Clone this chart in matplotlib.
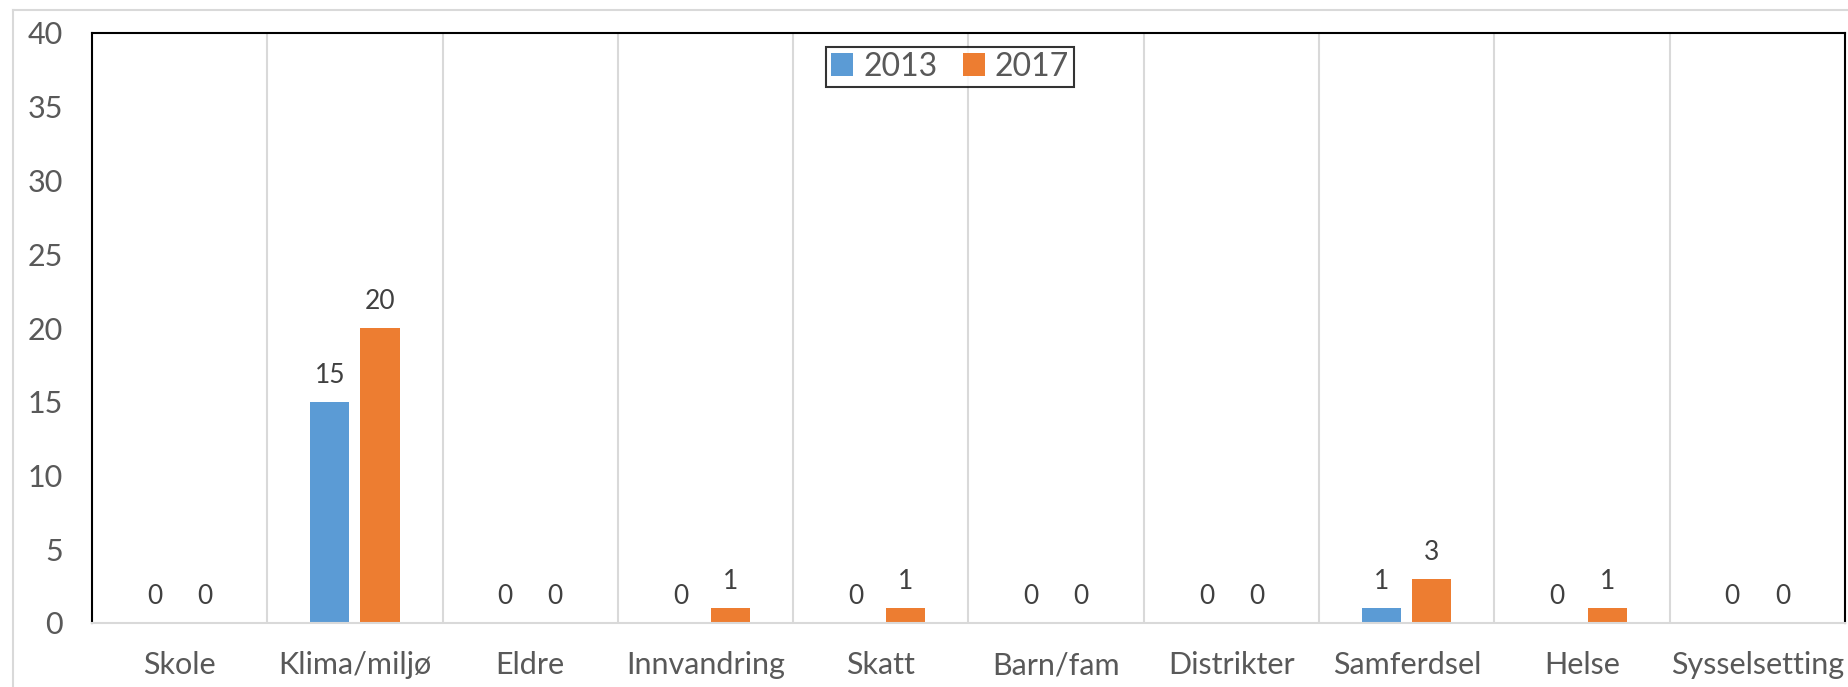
import matplotlib.pyplot as plt
import numpy as np
from matplotlib.lines import Line2D

categories = ["Skole", "Klima/miljø", "Eldre", "Innvandring", "Skatt",
              "Barn/fam", "Distrikter", "Samferdsel", "Helse", "Sysselsetting"]
v2013 = [0, 15, 0, 0, 0, 0, 0, 1, 0, 0]
v2017 = [0, 20, 0, 1, 1, 0, 0, 3, 1, 0]
yticks = [0, 5, 10, 15, 20, 25, 30, 35, 40]

blue = "#5B9BD5"
orange = "#ED7D31"

plt.rcParams['font.family'] = ['Lato', 'DejaVu Sans']

W, H = 1849, 687
fig = plt.figure(figsize=(W / 100, H / 100), dpi=100)
ax = fig.add_axes([92 / W, 64 / H, (1845 - 92) / W, 590 / H])

# light grey outer chart frame (mostly clipped in the original)
fig.add_artist(Line2D([13 / W, 13 / W], [0, 1 - 10 / H], color="#d9d9d9", lw=1.5))
fig.add_artist(Line2D([13 / W, 1], [1 - 10 / H, 1 - 10 / H], color="#d9d9d9", lw=1.5))

x = np.arange(len(categories))
w = 0.223
off = 0.143
ax.bar(x - off, v2013, w, color=blue, label="2013", zorder=2)
ax.bar(x + off, v2017, w, color=orange, label="2017", zorder=2)

for xs, vals in ((x - off, v2013), (x + off, v2017)):
    for xi, v in zip(xs, vals):
        ax.annotate(str(v), (xi, v), xytext=(0, 19), textcoords="offset points",
                    ha="center", va="center", fontsize=19, color="#404040")

for b in np.arange(0.5, len(categories) - 1):
    ax.axvline(b, color="#d9d9d9", lw=1.5, zorder=0)

ax.set_xlim(-0.5, len(categories) - 0.5)
ax.set_ylim(0, 40)
ax.set_yticks(yticks)
ax.set_xticks(x)
ax.set_xticklabels(categories)
ax.tick_params(axis="y", length=0, pad=21, labelsize=22, labelcolor="#595959")
ax.tick_params(axis="x", length=0, pad=20.5, labelsize=22, labelcolor="#595959")

for s in ("left", "top", "right"):
    ax.spines[s].set_color("black")
    ax.spines[s].set_linewidth(1.5)
ax.spines["bottom"].set_color("#d9d9d9")
ax.spines["bottom"].set_linewidth(1.5)

leg = ax.legend(loc="upper center", bbox_to_anchor=(950 / W, 1 - 47 / H),
                bbox_transform=fig.transFigure, ncol=2, fontsize=23,
                frameon=True, fancybox=False, handlelength=0.7, handleheight=0.7,
                handletextpad=0.3, columnspacing=0.8, borderpad=0.15,
                borderaxespad=0)
leg.get_frame().set_edgecolor("black")
leg.get_frame().set_linewidth(1.5)
for t in leg.get_texts():
    t.set_color("#595959")

fig.savefig("out.png", dpi=100)
